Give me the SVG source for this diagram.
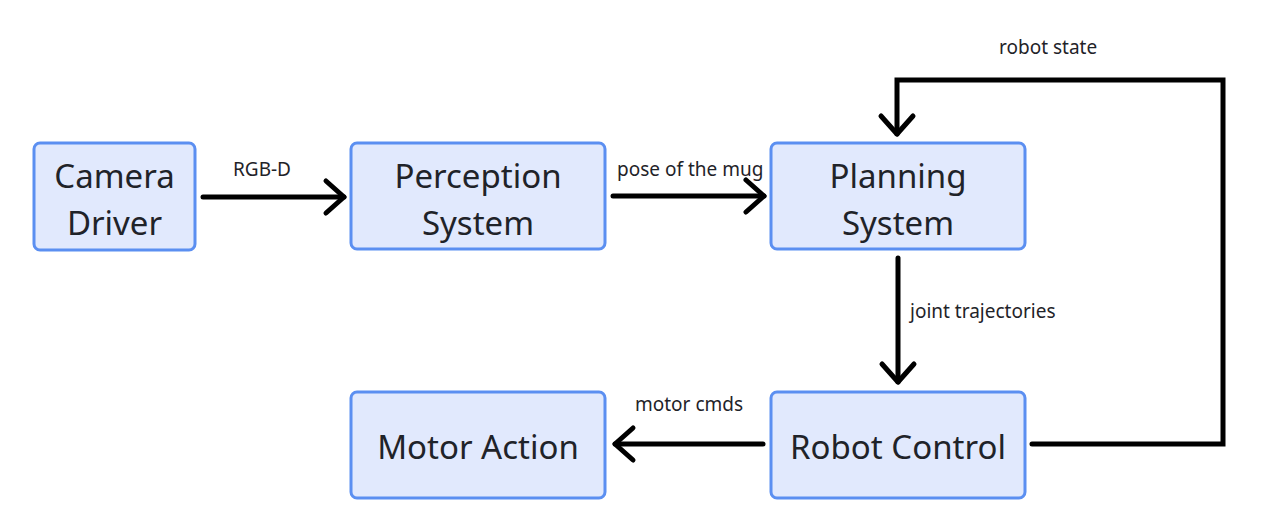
<svg xmlns="http://www.w3.org/2000/svg" width="1280" height="532" viewBox="0 0 1280 532">
<style>
.node rect{fill:#e1e9fd;stroke:#5b8ff1;stroke-width:3}
.nt{font-family:"Noto Sans","Open Sans",sans-serif;font-size:33px;fill:#1f2329;text-anchor:middle}
.lbl{font-family:"Noto Sans","Open Sans",sans-serif;font-size:19px;fill:#1f2329}
.edge{fill:none;stroke:#000;stroke-width:5;stroke-linecap:round;stroke-linejoin:miter}
</style>
<defs>
<marker id="arr" markerUnits="userSpaceOnUse" viewBox="-25 -22 30 44" markerWidth="30" markerHeight="44" refX="0" refY="0" orient="auto">
<path d="M-18 -16 L0 0 L-18 16" fill="none" stroke="#000" stroke-width="5" stroke-linecap="round" stroke-linejoin="round"/>
</marker>
</defs>
<rect width="1280" height="532" fill="#fff"/>
<g id="connectors">
<path class="edge" d="M203 197 L344 197" marker-end="url(#arr)"/>
<path class="edge" d="M613 196 L764 196" marker-end="url(#arr)"/>
<path class="edge" d="M898 258 L898 382" marker-end="url(#arr)"/>
<path class="edge" d="M763 444 L615 444" marker-end="url(#arr)"/>
<path class="edge" d="M1032 444 L1223 444 L1223 80 L897 80 L897 134" marker-end="url(#arr)"/>
<text class="lbl" x="233" y="176">RGB-D</text>
<text class="lbl" x="617" y="176">pose of the mug</text>
<text class="lbl" x="999" y="54">robot state</text>
<text class="lbl" x="910" y="318">joint trajectories</text>
<text class="lbl" x="635" y="411">motor cmds</text>
</g>
<g id="camera" class="node">
<rect x="34" y="143" width="161" height="107" rx="6"/>
<text class="nt" x="114.5" y="188">Camera</text>
<text class="nt" x="114.5" y="235">Driver</text>
</g>
<g id="perception" class="node">
<rect x="351" y="143" width="254" height="106" rx="6"/>
<text class="nt" x="478" y="188">Perception</text>
<text class="nt" x="478" y="235">System</text>
</g>
<g id="planning" class="node">
<rect x="771" y="143" width="254" height="106" rx="6"/>
<text class="nt" x="898" y="188">Planning</text>
<text class="nt" x="898" y="235">System</text>
</g>
<g id="motor" class="node">
<rect x="351" y="392" width="254" height="106" rx="6"/>
<text class="nt" x="478" y="459">Motor Action</text>
</g>
<g id="robot" class="node">
<rect x="771" y="392" width="254" height="106" rx="6"/>
<text class="nt" x="898" y="459">Robot Control</text>
</g>
</svg>
